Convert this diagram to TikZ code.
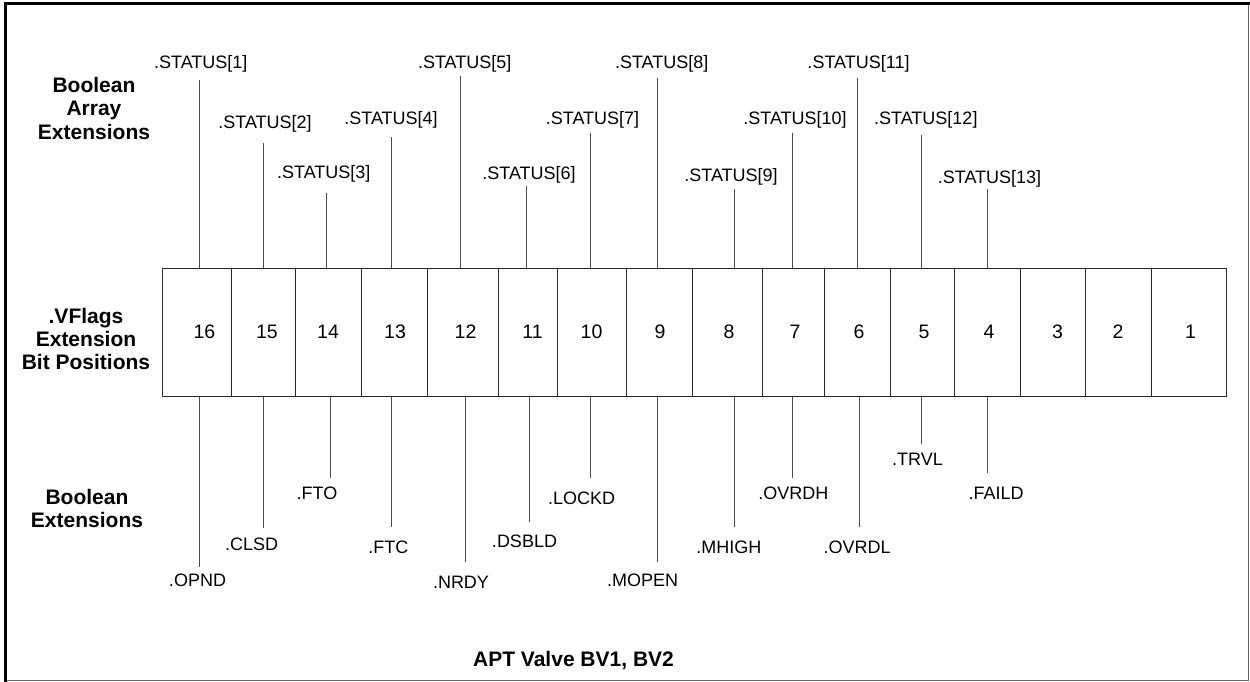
\documentclass[tikz,border=0pt]{standalone}
\usepackage{fontspec}
\setmainfont{Liberation Sans}
\begin{document}
\begin{tikzpicture}[x=1pt,y=-1pt,
  cellbox/.style={draw=black!85, line width=1pt, minimum height=128pt, inner sep=0pt,
     font=\fontsize{19.5}{22}\selectfont},
  lbl/.style={inner sep=0pt, anchor=base, font=\fontsize{18}{21}\selectfont},
  side/.style={inner sep=0pt, align=center, font=\fontsize{21}{23.3}\selectfont\bfseries},
  conn/.style={draw=black!70, line width=1pt}]
\useasboundingbox (0,0) rectangle (1250,682);
% frame
\draw[black!60, line width=1.2pt] (1248.5,4) -- (1248.5,680.5) -- (5,680.5);
\draw[black, line width=3pt] (5,682) -- (5,4) -- (1250,4);
% cells: boundaries and text offsets
\foreach \n/\l/\r/\o in {16/162/231/16, 15/231/295/8, 14/295/361/0, 13/361/427/2, 12/427/498/6,
   11/498/557/10, 10/557/626/0, 9/626/692/2, 8/692/762/4, 7/762/824/4, 6/824/890/4, 5/890/954/4,
   4/954/1020/4, 3/1020/1085/10, 2/1085/1151/0, 1/1151/1226/4}
  \node[cellbox, minimum width=\r pt-\l pt] (c\n) at ({(\l+\r)/2},332) {\hspace*{\o pt}\n};
% side labels
\node[side] (sa) at (94,108.3) {Boolean\\Array\\Extensions};
\node[side] (sb) at (86,339) {.VFlags\\Extension\\Bit Positions};
\node[side] (sc) at (87,508.3) {Boolean\\Extensions};
\node[inner sep=0pt, anchor=base, font=\fontsize{21}{24}\selectfont\bfseries] (title) at (573.5,666.8) {APT Valve BV1, BV2};
% top labels and connectors
\foreach \k/\lx/\ly/\px/\py/\c in {
   1/200.8/61.7/199.3/80/16, 2/265/121.7/263.3/142.7/15, 3/323.8/171.7/326.7/193.3/14,
   4/391/118.3/391/137.3/13, 5/464.7/61.7/460.3/76/12, 6/529/173.3/526.7/186/11,
   7/592.5/118.3/590.7/132.7/10, 8/661.7/61.7/657/78.3/9, 9/731/175/734/189/8,
   10/795/118.3/792.7/132.7/7, 11/858.5/61.7/857/78.3/6, 12/925.8/118.3/921/135/5,
   13/989.5/176.7/987.3/189/4}
{
  \node[lbl] (s\k) at (\lx,\ly+6.4) {.STATUS[\k]};
  \coordinate (t\k) at (\px,\py);
  \draw[conn] (t\k) -- (t\k |- c\c.north);
}
% bottom labels and connectors
\foreach \nm/\lx/\ly/\px/\py/\c in {
   OPND/197.5/580/199.3/566.7/16, CLSD/251.7/544/263.3/528.3/15, FTO/317/493.3/330/478.3/14,
   FTC/388.3/546.7/391/526.7/13, NRDY/461/581.7/465/562.3/12, DSBLD/524.5/540.7/529.3/521.7/11,
   LOCKD/581.7/498.3/590.7/478.3/10, MOPEN/642.5/580/657/562.3/9, MHIGH/728.8/546.7/734/526.7/8,
   OVRDH/793.3/492.7/792.7/478.3/7, OVRDL/857/546.7/859.3/526.7/6, TRVL/917.5/459.3/921/444/5,
   FAILD/996/492.7/987.3/472.7/4}
{
  \node[lbl] (b\nm) at (\lx,\ly+6.4) {.\nm};
  \coordinate (e\nm) at (\px,\py);
  \draw[conn] (e\nm |- c\c.south) -- (e\nm);
}
\end{tikzpicture}
\end{document}
